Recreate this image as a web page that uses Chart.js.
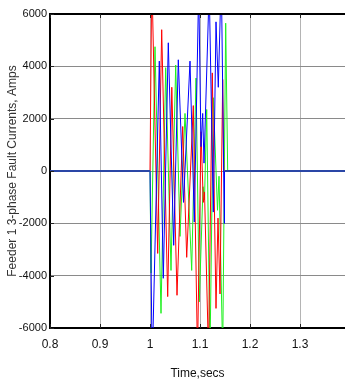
<!DOCTYPE html>
<html>
<head>
<meta charset="utf-8">
<script src="https://cdn.jsdelivr.net/npm/chart.js@4/dist/chart.umd.min.js"></script>
<style>
  html, body { margin: 0; padding: 0; background: #fff; }
  #fault-chart { display: block; }
</style>
</head>
<body>
<canvas id="fault-chart" width="345" height="382"></canvas>
<script>
// tick labels
const xTicks = [0.8, 0.9, 1.0, 1.1, 1.2, 1.3];
const yTicks = [-6000, -4000, -2000, 0, 2000, 4000, 6000];

// pre-fault / post-fault zero current
const tZero = [0.8, 1.0, null, 1.149, 1.4];
const iZero = [0, 0, null, 0, 0];

// phase currents during the fault (time in secs, current in amps)
const tRed = [1.0, 1.0036, 1.0154, 1.0234, 1.0354, 1.0436, 1.054, 1.0654, 1.0734, 1.0866, 1.095, 1.102, 1.1066, 1.109, 1.117, 1.1246, 1.132, 1.136, 1.14, 1.1454, 1.1476];
const iRed = [0, 7500, -3150, 5400, -4800, 3200, -4750, 1700, -3300, 2500, -7000, 1500, -1200, -800, -7000, 3750, -5250, -1800, -4700, 3500, 0];

const tGreen = [1.0, 1.002, 1.01, 1.022, 1.0314, 1.042, 1.0514, 1.06, 1.07, 1.0834, 1.092, 1.0986, 1.106, 1.109, 1.1134, 1.12, 1.1266, 1.135, 1.138, 1.1454, 1.1514, 1.1554];
const iGreen = [0, -3900, 4750, -5440, 3950, -3800, 4050, -2500, 2200, -3800, 3550, -5000, -600, -1100, 2350, -7000, 2800, -1500, -200, -7000, 5650, 0];

const tBlue = [1.0, 1.0044, 1.0186, 1.0266, 1.0366, 1.0474, 1.0566, 1.067, 1.08, 1.0886, 1.0974, 1.102, 1.1054, 1.108, 1.1184, 1.1266, 1.132, 1.1366, 1.1426, 1.1486, 1.149];
const iBlue = [0, -7500, 4200, -4100, 4900, -2840, 4250, -1200, 4200, -1950, 7000, 930, 2200, 300, 7000, -1570, 5700, 3200, 7500, -2000, 0];

function pts(ts, vs) {
    return ts.map((t, i) => t === null ? { x: NaN, y: null } : { x: t, y: vs[i] });
}

function phase(label, ts, vs, color) {
    return {
        label: label,
        data: pts(ts, vs),
        borderColor: color,
        borderWidth: 1,
        pointRadius: 0,
        showLine: true,
        tension: 0,
    };
}

// top border and inward tick marks, like the original plot frame
const framePlugin = {
    id: 'frame',
    afterDraw(chart) {
        const { ctx, chartArea: a, scales } = chart;
        ctx.save();
        ctx.strokeStyle = '#000';
        ctx.lineWidth = 2;
        ctx.beginPath();
        ctx.moveTo(a.left, a.top);
        ctx.lineTo(a.right, a.top);
        ctx.stroke();
        ctx.lineWidth = 1;
        ctx.strokeStyle = '#222';
        ctx.beginPath();
        xTicks.forEach(v => {
            const px = Math.round(scales.x.getPixelForValue(v)) + 0.5;
            ctx.moveTo(px, a.top); ctx.lineTo(px, a.top + 4);
            ctx.moveTo(px, a.bottom); ctx.lineTo(px, a.bottom - 4);
        });
        yTicks.forEach(v => {
            const py = Math.round(scales.y.getPixelForValue(v)) + 0.5;
            ctx.moveTo(a.left, py); ctx.lineTo(a.left + 4, py);
        });
        ctx.stroke();
        ctx.restore();
    }
};

const narrow = "'Liberation Sans Narrow', 'Liberation Sans', Arial, sans-serif";

new Chart(document.getElementById('fault-chart').getContext('2d'), {
    type: 'scatter',
    data: {
        datasets: [
            {
                label: 'zero',
                data: pts(tZero, iZero),
                borderColor: '#2a46a6',
                borderWidth: 2,
                pointRadius: 0,
                showLine: true,
                spanGaps: false,
            },
            phase('Phase C', tBlue, iBlue, '#0000ff'),
            phase('Phase A', tRed, iRed, '#ff0000'),
            phase('Phase B', tGreen, iGreen, '#1ef01e'),
        ]
    },
    options: {
        responsive: false,
        animation: false,
        devicePixelRatio: 1,
        layout: { padding: { top: 14, left: 0, right: 0, bottom: 0 } },
        plugins: {
            legend: { display: false },
            tooltip: { enabled: false },
        },
        scales: {
            x: {
                type: 'linear',
                min: 0.8,
                max: 1.39,
                afterBuildTicks: s => { s.ticks = xTicks.map(v => ({ value: v })); },
                afterFit: s => { s.height = 54; },
                grid: { color: '#b4b4b4', lineWidth: 1, drawTicks: false },
                border: { display: true, color: '#000', width: 2 },
                ticks: {
                    padding: 9,
                    color: '#111',
                    font: { family: narrow, size: 12 },
                    callback: v => String(Number(v.toFixed(1))),
                },
                title: {
                    display: true,
                    text: 'Time,secs',
                    color: '#111',
                    font: { family: narrow, size: 12 },
                    padding: { top: 0, bottom: 1 },
                },
            },
            y: {
                type: 'linear',
                min: -6000,
                max: 6000,
                afterBuildTicks: s => { s.ticks = yTicks.map(v => ({ value: v })); },
                afterFit: s => { s.width = 50; },
                grid: { color: '#8a8a8a', lineWidth: 1, drawTicks: false },
                border: { display: true, color: '#000', width: 2 },
                ticks: {
                    padding: 3,
                    color: '#111',
                    font: { family: narrow, size: 11 },
                    callback: v => String(v),
                },
                title: {
                    display: true,
                    text: 'Feeder 1 3-phase Fault Currents, Amps',
                    color: '#333',
                    font: { family: "'Liberation Sans', Arial, sans-serif", size: 12 },
                    padding: { top: 5, bottom: 0 },
                },
            }
        }
    },
    plugins: [framePlugin]
});
</script>
</body>
</html>
